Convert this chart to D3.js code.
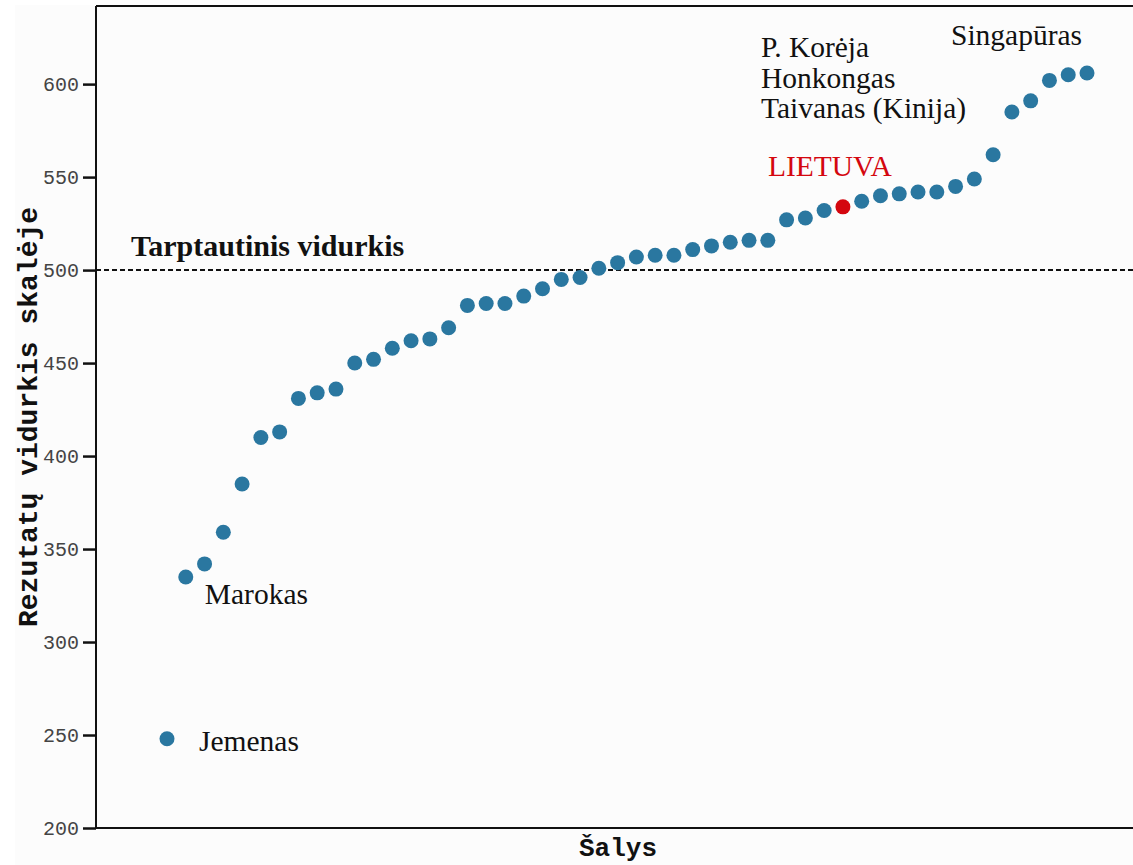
<!DOCTYPE html>
<html>
<head>
<meta charset="utf-8">
<script src="https://cdn.jsdelivr.net/npm/d3@7"></script>
<style>
  html, body { margin: 0; padding: 0; background: #ffffff; overflow: hidden; }
  svg { display: block; }
</style>
</head>
<body>
<svg id="chart" width="1133" height="865"></svg>
<script>
// Data: country averages, sorted from lowest to highest
const scores = [248, 335, 342, 359, 385, 410, 413, 431, 434, 436,
                450, 452, 458, 462, 463, 469, 481, 482, 482, 486,
                490, 495, 496, 501, 504, 507, 508, 508, 511, 513,
                515, 516, 516, 527, 528, 532, 534, 537, 540, 541,
                542, 542, 545, 549, 562, 585, 591, 602, 605, 606];
const highlight_idx = 36;          // LIETUVA
const y_ticks = [200, 250, 300, 350, 400, 450, 500, 550, 600];
const intl_average = 500;

const labels_korea = ['P. Korėja', 'Honkongas', 'Taivanas (Kinija)'];

const width = 1133, height = 865;
const plot_left = 96, plot_right = 1140, plot_top = 6, plot_bottom = 828;
const dot_color = '#2a77a0';
const red = '#d4070f';
const serif = '"Liberation Serif", "Times New Roman", serif';
const mono = '"Liberation Mono", "Courier New", monospace';

const svg = d3.select('#chart');

// light panel background
svg.append('rect')
    .attr('x', 15).attr('y', 5)
    .attr('width', width).attr('height', height)
    .attr('fill', '#fcfcfc');

const x = d3.scaleLinear()
    .domain([0, scores.length - 1])
    .range([167, 1087]);

const y = d3.scaleLinear()
    .domain([200, 642])
    .range([plot_bottom, plot_top]);

// y axis
let y_axis = svg.append('g')
    .attr('transform', `translate(${plot_left}, 0)`)
    .call(d3.axisLeft(y).tickValues(y_ticks).tickSize(13).tickPadding(4).tickSizeOuter(0));

y_axis.select('.domain').remove();
y_axis.selectAll('.tick line')
    .attr('stroke', '#111')
    .attr('stroke-width', 2.5);
y_axis.selectAll('.tick text')
    .attr('font-family', mono)
    .attr('font-size', 20)
    .attr('fill', '#444');

// frame lines: left, bottom, top
svg.append('line')
    .attr('x1', plot_left).attr('x2', plot_left)
    .attr('y1', plot_top).attr('y2', plot_bottom)
    .attr('stroke', '#111').attr('stroke-width', 2);
svg.append('line')
    .attr('x1', plot_left).attr('x2', plot_right)
    .attr('y1', plot_bottom).attr('y2', plot_bottom)
    .attr('stroke', '#111').attr('stroke-width', 2);
svg.append('line')
    .attr('x1', plot_left).attr('x2', plot_right)
    .attr('y1', plot_top).attr('y2', plot_top)
    .attr('stroke', '#111').attr('stroke-width', 2);

// international average
svg.append('line')
    .attr('x1', plot_left).attr('x2', plot_right)
    .attr('y1', y(intl_average)).attr('y2', y(intl_average))
    .attr('stroke', '#111')
    .attr('stroke-width', 2)
    .attr('stroke-dasharray', '5,3');

svg.append('text')
    .attr('x', 131)
    .attr('y', y(intl_average) - 14)
    .attr('font-family', serif)
    .attr('font-weight', 'bold')
    .attr('font-size', 30)
    .attr('fill', '#111')
    .text('Tarptautinis vidurkis');

// dots
svg.selectAll('circle.country')
    .data(scores)
    .join('circle')
    .classed('country', true)
    .attr('cx', (d, i) => x(i))
    .attr('cy', d => y(d))
    .attr('r', 7.5)
    .attr('fill', (d, i) => i === highlight_idx ? red : dot_color);

// annotations
function note(txt, px, py, color) {
    svg.append('text')
        .attr('x', px).attr('y', py)
        .attr('font-family', serif)
        .attr('font-size', 29.5)
        .attr('fill', color || '#111')
        .text(txt);
}

note('Jemenas', x(0) + 32, y(scores[0]) + 12);
note('Marokas', x(1) + 19, y(scores[1]) + 27);
note('LIETUVA', x(highlight_idx) - 75, y(scores[highlight_idx]) - 31, red);
labels_korea.forEach((t, i) => note(t, 761, 57 + i * 30.5));
note('Singapūras', 951, 45);

// axis titles
svg.append('text')
    .attr('x', (plot_left + plot_right) / 2)
    .attr('y', 856)
    .attr('text-anchor', 'middle')
    .attr('font-family', mono)
    .attr('font-weight', 'bold')
    .attr('font-size', 26)
    .attr('fill', '#111')
    .text('Šalys');

svg.append('text')
    .attr('transform', `translate(37, ${(plot_top + plot_bottom) / 2}) rotate(-90)`)
    .attr('text-anchor', 'middle')
    .attr('font-family', mono)
    .attr('font-weight', 'bold')
    .attr('font-size', 28)
    .attr('fill', '#111')
    .text('Rezutatų vidurkis skalėje');
</script>
</body>
</html>
